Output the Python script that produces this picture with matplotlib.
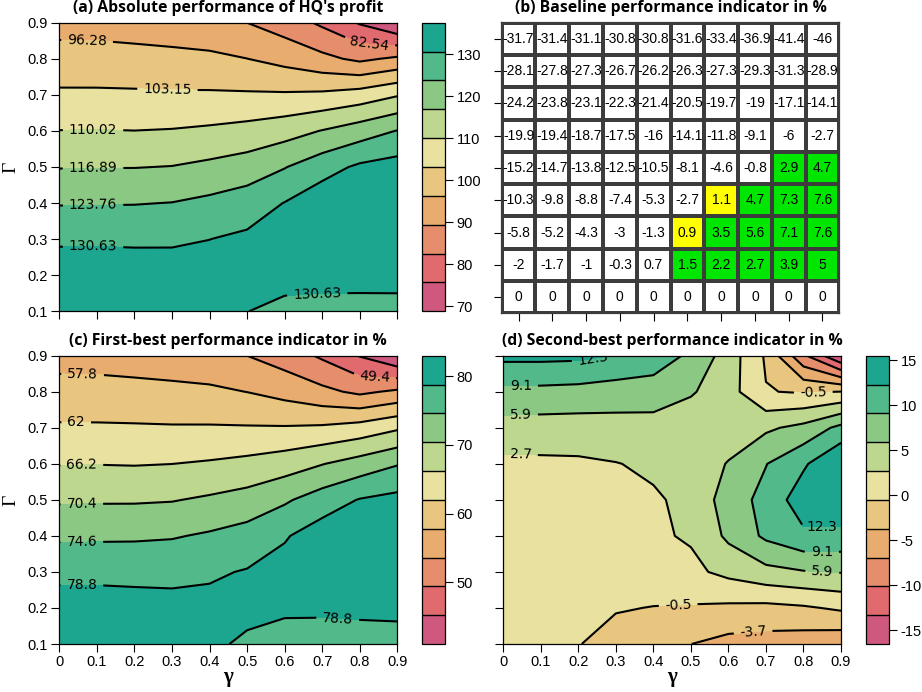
import matplotlib
matplotlib.use("Agg")
import matplotlib.pyplot as plt
import numpy as np
from matplotlib.colors import ListedColormap

plt.rcParams['font.family'] = ['Liberation Sans', 'DejaVu Sans']
plt.rcParams['axes.unicode_minus'] = False

gamma = [0.0, 0.1, 0.2, 0.3, 0.4, 0.5, 0.6, 0.7, 0.8, 0.9]
Gamma = [0.1, 0.2, 0.3, 0.4, 0.5, 0.6, 0.7, 0.8, 0.9]

# rows: Gamma = 0.1 ... 0.9, columns: gamma = 0 ... 0.9
hq_profit = [
    [137.50, 136.80, 135.40, 133.80, 132.30, 130.70, 129.40, 128.90, 128.10, 127.45],
    [134.75, 134.47, 134.05, 133.40, 133.23, 132.66, 132.25, 132.38, 133.10, 133.82],
    [129.53, 129.69, 129.58, 129.79, 130.58, 131.88, 133.93, 136.12, 137.20, 137.14],
    [123.34, 123.39, 123.48, 123.90, 125.29, 127.17, 130.82, 134.96, 137.45, 137.14],
    [116.60, 116.69, 116.71, 117.08, 118.41, 120.11, 123.45, 127.87, 131.81, 133.44],
    [110.14, 110.26, 110.08, 110.39, 111.13, 112.27, 114.13, 117.17, 120.41, 124.01],
    [104.23, 104.24, 104.12, 103.96, 103.99, 103.91, 103.91, 104.41, 106.19, 109.48],
    [98.86, 98.77, 98.44, 98.08, 97.64, 96.33, 94.07, 91.13, 88.00, 90.62],
    [93.91, 93.84, 93.29, 92.59, 91.55, 89.40, 86.18, 81.34, 75.07, 68.82],
]

first_best = [
    [82.43, 82.01, 81.17, 80.21, 79.31, 78.35, 77.58, 77.28, 76.80, 76.41],
    [80.78, 80.61, 80.36, 79.97, 79.87, 79.53, 79.28, 79.36, 79.79, 80.23],
    [77.65, 77.75, 77.68, 77.81, 78.28, 79.06, 80.29, 81.60, 82.25, 82.22],
    [73.94, 73.97, 74.03, 74.28, 75.11, 76.24, 78.43, 80.91, 82.40, 82.22],
    [69.90, 69.96, 69.97, 70.19, 70.99, 72.01, 74.01, 76.66, 79.02, 80.00],
    [66.03, 66.10, 65.99, 66.18, 66.62, 67.31, 68.42, 70.24, 72.19, 74.34],
    [62.49, 62.49, 62.42, 62.32, 62.34, 62.29, 62.29, 62.59, 63.66, 65.63],
    [59.27, 59.21, 59.02, 58.80, 58.54, 57.75, 56.40, 54.63, 52.76, 54.33],
    [56.30, 56.26, 55.93, 55.51, 54.88, 53.60, 51.67, 48.76, 45.00, 41.26],
]

second_best = [
    [0.90, 0.60, -0.37, -1.80, -2.70, -3.68, -4.71, -5.03, -5.42, -6.00],
    [1.00, 0.80, 0.40, -0.27, -0.60, -0.78, -1.10, -1.34, -0.90, -0.04],
    [1.10, 1.00, 0.80, 0.90, 1.40, 1.98, 3.54, 4.97, 5.70, 6.05],
    [1.30, 1.20, 1.10, 1.30, 2.26, 3.03, 6.53, 9.70, 11.70, 11.50],
    [1.60, 1.50, 1.50, 1.80, 2.35, 3.40, 7.47, 10.10, 14.10, 14.70],
    [2.00, 2.13, 2.23, 2.60, 3.20, 3.80, 6.10, 9.00, 11.84, 15.50],
    [4.59, 4.50, 4.45, 4.67, 4.51, 3.80, 4.00, 5.37, 6.80, 10.00],
    [8.34, 8.28, 8.07, 7.60, 7.74, 6.24, 4.00, -0.35, -0.80, -0.45],
    [13.12, 13.13, 12.99, 12.20, 10.70, 8.57, 4.40, -0.90, -9.50, -16.50],
]

baseline = [
    [0, 0, 0, 0, 0, 0, 0, 0, 0, 0],
    [-2, -1.7, -1, -0.3, 0.7, 1.5, 2.2, 2.7, 3.9, 5],
    [-5.8, -5.2, -4.3, -3, -1.3, 0.9, 3.5, 5.6, 7.1, 7.6],
    [-10.3, -9.8, -8.8, -7.4, -5.3, -2.7, 1.1, 4.7, 7.3, 7.6],
    [-15.2, -14.7, -13.8, -12.5, -10.5, -8.1, -4.6, -0.8, 2.9, 4.7],
    [-19.9, -19.4, -18.7, -17.5, -16, -14.1, -11.8, -9.1, -6, -2.7],
    [-24.2, -23.8, -23.1, -22.3, -21.4, -20.5, -19.7, -19, -17.1, -14.1],
    [-28.1, -27.8, -27.3, -26.7, -26.2, -26.3, -27.3, -29.3, -31.3, -28.9],
    [-31.7, -31.4, -31.1, -30.8, -30.8, -31.6, -33.4, -36.9, -41.4, -46],
]

levels_a = [68.79, 75.66, 82.54, 89.41, 96.28, 103.15, 110.02, 116.89, 123.76, 130.63, 137.50]
levels_c = [41.0, 45.2, 49.4, 53.6, 57.8, 62.0, 66.2, 70.4, 74.6, 78.8, 83.0]
levels_d = [-16.5, -13.3, -10.1, -6.9, -3.7, -0.5, 2.7, 5.9, 9.1, 12.3, 15.5]

cbar_ticks_a = [70, 80, 90, 100, 110, 120, 130]
cbar_ticks_c = [50, 60, 70, 80]
cbar_ticks_d = [-15, -10, -5, 0, 5, 10, 15]

titles = ["(a) Absolute performance of HQ's profit",
          "(b) Baseline performance indicator in %",
          "(c) First-best performance indicator in %",
          "(d) Second-best performance indicator in %"]

band_colors = ['#CF597E', '#E06A6E', '#E68E6B', '#E8AD6E', '#E9C67F',
               '#E8E1A0', '#BDD88E', '#8BC884', '#51B98A', '#1DA68F']

W, H = 922, 692
fig = plt.figure(figsize=(W / 100, H / 100), dpi=100)


def box(x0, y0, x1, y1):
    return [x0 / W, 1 - y1 / H, (x1 - x0) / W, (y1 - y0) / H]


def fmt(v):
    return f'{v:g}'


def contour_panel(ax, cax, z, levels, ticks, lab_pos):
    X, Y = np.meshgrid(gamma, Gamma)
    z = np.array(z)
    cf = ax.contourf(X, Y, z, levels=levels, colors=band_colors)
    cs = ax.contour(X, Y, z, levels=levels[1:-1], colors='black',
                    linewidths=1.5, linestyles='solid')
    with plt.rc_context({'font.family': 'DejaVu Sans'}):
        ax.clabel(cs, manual=lab_pos, fmt=fmt,
                  fontsize=10, inline=True, inline_spacing=6)
    ax.set_xlim(0, 0.9)
    ax.set_ylim(0.1, 0.9)
    ax.set_xticks(gamma, labels=[fmt(v) for v in gamma])
    ax.set_yticks(Gamma, labels=[fmt(v) for v in Gamma])
    ax.tick_params(direction='out', length=6, width=0.8, labelsize=10.5, pad=2)
    for s in ax.spines.values():
        s.set_linewidth(0.9)
    cb = fig.colorbar(cf, cax=cax, drawedges=True, ticks=ticks)
    cb.outline.set_linewidth(0.9)
    cb.dividers.set_color('black')
    cb.dividers.set_linewidth(1.0)
    cax.tick_params(direction='out', length=6, width=0.8, labelsize=10.5, pad=2)
    return ax


# (a)
ax_a = fig.add_axes(box(59.3, 22.7, 397.3, 311.3))
cax_a = fig.add_axes(box(421.7, 22.7, 445.3, 311.3))
contour_panel(ax_a, cax_a, hq_profit, levels_a, cbar_ticks_a,
              [(0.827, 0.861), (0.074, 0.845), (0.288, 0.715), (0.09, 0.598),
               (0.09, 0.491), (0.09, 0.388), (0.09, 0.27), (0.687, 0.146)])
ax_a.tick_params(axis='x', labelbottom=False)

# (c)
ax_c = fig.add_axes(box(59.3, 355.7, 397.3, 644.0))
cax_c = fig.add_axes(box(421.7, 355.7, 445.3, 644.0))
contour_panel(ax_c, cax_c, first_best, levels_c, cbar_ticks_c,
              [(0.841, 0.856), (0.062, 0.842), (0.045, 0.708), (0.06, 0.592),
               (0.06, 0.486), (0.06, 0.377), (0.06, 0.255), (0.741, 0.165)])

# (d)
ax_d = fig.add_axes(box(503.3, 355.7, 841.0, 644.0))
cax_d = fig.add_axes(box(865.7, 355.7, 889.3, 644.0))
contour_panel(ax_d, cax_d, second_best, levels_d, cbar_ticks_d,
              [(0.239, 0.893), (0.047, 0.816), (0.047, 0.735), (0.047, 0.627),
               (0.826, 0.80), (0.85, 0.449), (0.849, 0.356), (0.85, 0.298),
               (0.466, 0.208), (0.666, 0.131)])
ax_d.tick_params(axis='y', labelleft=False)

# (b) table of baseline indicator
ax_b = fig.add_axes(box(501.7, 22.7, 839.3, 313.3))
b = np.array(baseline, dtype=float)
cat = np.where(b >= 1.5, 2, np.where(b >= 0.8, 1, 0))
xe = np.r_[np.array(gamma) - 0.05, gamma[-1] + 0.05]
ye = np.r_[np.array(Gamma) - 0.05, Gamma[-1] + 0.05]
ax_b.pcolormesh(xe, ye, cat, cmap=ListedColormap(['white', '#FFFF00', '#00E600']),
                vmin=-0.5, vmax=2.5, edgecolors='#3c3c3c', linewidth=1.6)
for i, g in enumerate(Gamma):
    for j, x in enumerate(gamma):
        ax_b.text(x, g, fmt(b[i, j]), ha='center', va='center', fontsize=10)
ax_b.set_xlim(xe[0], xe[-1])
ax_b.set_ylim(ye[0], ye[-1])
ax_b.set_xticks(gamma, labels=[])
ax_b.set_yticks(Gamma, labels=[])
ax_b.tick_params(direction='out', length=6, width=0.8)
for s in ax_b.spines.values():
    s.set_linewidth(1.6)
    s.set_color('#3c3c3c')

# titles
for ax, t, yb in [(ax_a, titles[0], 12.5), (ax_b, titles[1], 12.5),
                  (ax_c, titles[2], 345.0), (ax_d, titles[3], 345.0)]:
    p = ax.get_position()
    fig.text(p.x0 + p.width / 2, 1 - yb / H, t, ha='center', va='baseline',
             fontsize=11.3, fontweight='bold', family=['Open Sans', 'DejaVu Sans'])

# axis symbols
for yc in [167.0, 500.0]:
    fig.text(11 / W, 1 - yc / H, 'Γ', rotation=90, ha='center', va='center',
             fontsize=14, family=['Liberation Serif', 'DejaVu Serif'])
for xc in [228.3, 672.0]:
    fig.text(xc / W, 1 - 677 / H, 'γ', ha='center', va='center',
             fontsize=15, fontweight='bold', family=['Liberation Serif', 'DejaVu Serif'])

fig.savefig('out.png', dpi=100)
